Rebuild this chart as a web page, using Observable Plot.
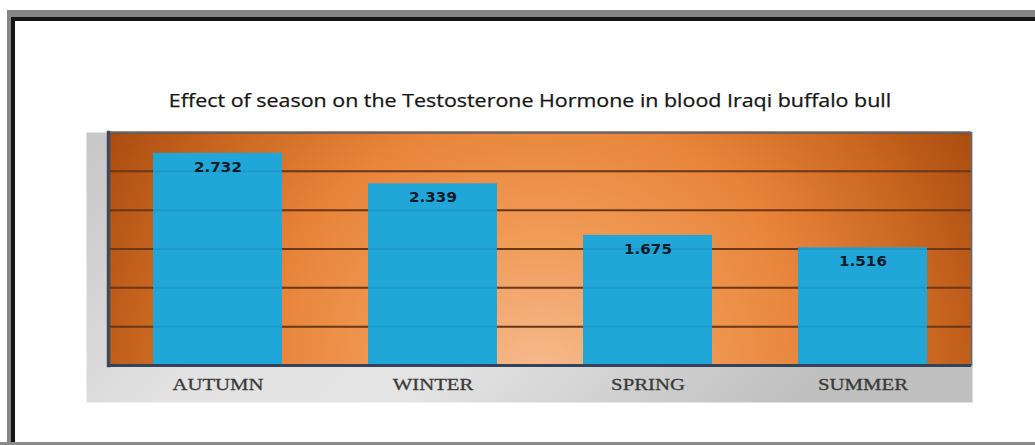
<!DOCTYPE html>
<html><head><meta charset="utf-8">
<script src="https://cdn.jsdelivr.net/npm/d3@7"></script>
<script src="https://cdn.jsdelivr.net/npm/@observablehq/plot@0.6"></script>
<style>
html,body{margin:0;padding:0;background:#fff;width:1035px;height:445px;overflow:hidden}
#page{position:relative;width:1035px;height:445px}
.b{position:absolute}
#title{position:absolute;left:0;width:1060px;top:88px;text-align:center;font-family:"Open Sans",sans-serif;font-size:18px;color:#161616;white-space:nowrap;transform:scaleX(1.19);transform-origin:530px 50%;-webkit-text-stroke:0.25px #161616}
#chart{position:absolute;left:0;top:0}
#chart svg [aria-label="x-axis tick label"] text{stroke:#3a3a3a;stroke-width:0.3px}
</style></head><body>
<div id="page">
 <div class="b" style="left:7px;top:10px;right:0;height:7px;background:#858585"></div>
 <div class="b" style="left:11px;top:17px;right:0;height:4px;background:#151515"></div>
 <div class="b" style="left:7px;top:10px;width:4px;bottom:0;background:#858585"></div>
 <div class="b" style="left:11px;top:17px;width:4px;bottom:3px;background:#151515"></div>
 <div class="b" style="left:0;right:0;bottom:0;height:3px;background:#8a8a8a"></div>
 <div id="title">Effect of season on the Testosterone Hormone in blood Iraqi buffalo bull</div>
 <div id="chart"></div>
</div>
<script>
const seasons = ["AUTUMN", "WINTER", "SPRING", "SUMMER"];
const values = [2.732, 2.339, 1.675, 1.516];
const valueLabels = ["2.732", "2.339", "1.675", "1.516"];
const gridTicks = [0.5, 1, 1.5, 2, 2.5, 3];

const data = seasons.map((s, i) => ({season: s, value: values[i], label: valueLabels[i]}));

const chart = Plot.plot({
  width: 1035,
  height: 445,
  marginLeft: 108,
  marginRight: 64,
  marginTop: 132,
  marginBottom: 80,
  style: {background: "transparent", overflow: "visible"},
  x: {domain: seasons, paddingInner: 0.4, paddingOuter: 0.2, label: null},
  y: {domain: [0, 3], label: null, axis: null},
  marks: [
    Plot.frame({fill: "url(#panelGrad)", stroke: "none", insetLeft: -22, insetBottom: -37, insetRight: -1}),
    Plot.frame({fill: "url(#plotGrad)", stroke: "none"}),
    Plot.gridY(gridTicks, {stroke: "#7a360e", strokeOpacity: 1, strokeWidth: 2}),
    Plot.barY(data, {x: "season", y: "value", fill: "#20a6d7"}),
    Plot.gridY(gridTicks, {stroke: "#0a4a70", strokeOpacity: 0.12, strokeWidth: 2}),
    Plot.frame({stroke: "#5d6d80", strokeWidth: 1.5}),
    Plot.frame({anchor: "left", stroke: "#3c4a5c", strokeWidth: 3.5}),
    Plot.ruleY([0], {stroke: "#34425a", strokeWidth: 3}),
    Plot.text(data, {x: "season", y: "value", text: "label", dy: 14, fontSize: 14, fontWeight: "bold",
      fontFamily: "DejaVu Sans", fill: "#111a28", className: "vlabel"}),
    Plot.axisX({tickSize: 0, tickPadding: 12, fontSize: 17, fontFamily: "Liberation Serif", fill: "#3a3a3a", label: null})
  ]
});

const defs = d3.select(chart).insert("defs", ":first-child");
const pg = defs.append("linearGradient").attr("id", "panelGrad").attr("x1", 0).attr("x2", 1).attr("y1", 0).attr("y2", 0.3);
[[0, "#c6c6c6"], [0.35, "#e2e2e2"], [0.6, "#e4e4e4"], [1, "#c0c0c0"]].forEach(([o, c]) => pg.append("stop").attr("offset", o).attr("stop-color", c));
const rg = defs.append("radialGradient").attr("id", "plotGrad").attr("gradientUnits", "userSpaceOnUse")
  .attr("cx", 540).attr("cy", 380).attr("r", 500);
[[0, "#f6bd93"], [0.3, "#f09a55"], [0.55, "#e8843a"], [0.8, "#c8651f"], [1, "#a94c10"]].forEach(([o, c]) => rg.append("stop").attr("offset", o).attr("stop-color", c));

document.getElementById("chart").appendChild(chart);

// horizontally stretch glyphs like the reference
function stretch(selector, factor) {
  d3.select(chart).selectAll(selector).each(function () {
    const len = this.getComputedTextLength();
    this.setAttribute("textLength", (len * factor).toFixed(1));
    this.setAttribute("lengthAdjust", "spacingAndGlyphs");
  });
}
stretch('[aria-label="x-axis tick label"] text', 1.22);
stretch('.vlabel text', 1.08);
</script>
</body></html>
